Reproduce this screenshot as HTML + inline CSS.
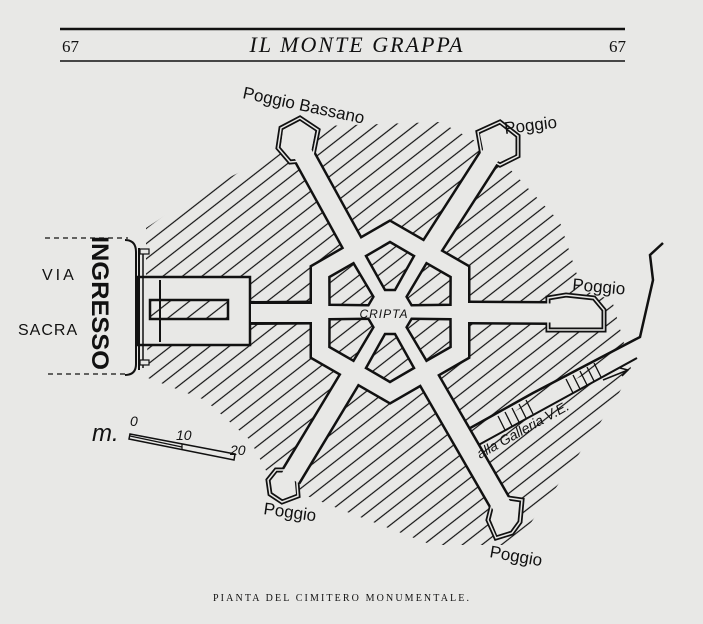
<!DOCTYPE html>
<html><head><meta charset="utf-8"><style>
html,body{margin:0;padding:0;background:#e8e8e6;}
svg{display:block;}
</style></head><body>
<svg width="703" height="624" viewBox="0 0 703 624" xmlns="http://www.w3.org/2000/svg">
<defs>
<pattern id="h" patternUnits="userSpaceOnUse" width="12" height="12" patternTransform="rotate(-38)">
<line x1="0" y1="6" x2="12" y2="6" stroke="#111" stroke-width="1.2"/>
</pattern>
</defs>
<rect width="703" height="624" fill="#e8e8e6"/>
<!-- header -->
<line x1="60" y1="29" x2="625" y2="29" stroke="#111" stroke-width="2.5"/>
<line x1="60" y1="61" x2="625" y2="61" stroke="#111" stroke-width="1.5"/>
<text x="62" y="52" font-family="Liberation Serif,serif" font-size="17" fill="#111">67</text>
<text x="357" y="52" text-anchor="middle" font-family="Liberation Serif,serif" font-style="italic" font-size="22" letter-spacing="2" fill="#111">IL MONTE GRAPPA</text>
<text x="626" y="52" text-anchor="end" font-family="Liberation Serif,serif" font-size="17" fill="#111">67</text>

<!-- hatched ground -->
<polygon points="146,228 200,192 268,158 322,126 440,122 492,150 560,222 582,290 612,300 632,372 602,420 560,482 515,545 432,545 342,510 272,482 250,440 205,400 148,378 146,300" fill="url(#h)"/>

<!-- road -->
<polyline points="463,432 533,393 640,337 653,280 650,255 663,243" fill="none" stroke="#111" stroke-width="2.5"/>
<polygon points="466,440 533,401 637,348 637,358 473,448" fill="#e8e8e6"/>
<line x1="473" y1="448" x2="637" y2="358" stroke="#111" stroke-width="2"/>
<g stroke="#111" stroke-width="1.3">
<line x1="498" y1="416" x2="505" y2="430"/><line x1="505" y1="412" x2="512" y2="426"/><line x1="512" y1="408" x2="519" y2="422"/><line x1="519" y1="404" x2="526" y2="418"/><line x1="526" y1="400" x2="533" y2="414"/>
<line x1="566" y1="379" x2="573" y2="393"/><line x1="573" y1="375" x2="580" y2="389"/><line x1="580" y1="371" x2="587" y2="385"/><line x1="587" y1="367" x2="594" y2="381"/><line x1="594" y1="363" x2="601" y2="377"/>
</g>

<!-- corridors black -->
<g stroke="#111" stroke-linecap="butt" fill="none" stroke-width="24">
<line x1="390" y1="312" x2="302" y2="152"/>
<line x1="390" y1="312" x2="494" y2="150"/>
<line x1="390" y1="312" x2="552" y2="313"/>
<line x1="390" y1="312" x2="503" y2="508"/>
<line x1="390" y1="312" x2="290" y2="478"/>
<line x1="390" y1="312" x2="245" y2="313"/>
</g>
<polygon points="390,222 468,267 468,357 390,402 312,357 312,267" fill="#111" stroke="#111" stroke-width="5"/>
<!-- caps -->
<g fill="#e8e8e6" stroke="#111" stroke-width="5">
<polygon points="281,128 300,118 318,130 312,160 290,162 278,148"/>
<polygon points="478,132 500,122 518,136 518,156 500,165 482,155"/>
<polygon points="548,298 566,295 594,298 604,310 604,330 548,330"/>
<polygon points="494,496 522,500 520,522 512,533 496,538 488,520"/>
<polygon points="296,470 276,470 268,480 270,494 282,502 298,496"/>
</g>
<g fill="none" stroke="#e8e8e6" stroke-width="1.5">
<polygon points="281,128 300,118 318,130 312,160 290,162 278,148"/>
<polygon points="478,132 500,122 518,136 518,156 500,165 482,155"/>
<polygon points="548,298 566,295 594,298 604,310 604,330 548,330"/>
<polygon points="494,496 522,500 520,522 512,533 496,538 488,520"/>
<polygon points="296,470 276,470 268,480 270,494 282,502 298,496"/>
</g>
<g fill="#e8e8e6">
<polygon points="283,130 300,121 315,131 310,158 291,159 281,147"/>
<polygon points="480,134 500,125 515,137 515,155 500,162 484,154"/>
<polygon points="551,301 566,298 592,301 601,311 601,327 551,327"/>
<polygon points="497,499 519,503 517,521 510,530 497,535 491,520"/>
<polygon points="294,473 278,473 271,481 273,492 283,499 296,494"/>
</g>
<!-- corridors paper -->
<g stroke="#e8e8e6" stroke-linecap="butt" fill="none" stroke-width="19">
<line x1="390" y1="312" x2="302" y2="152"/>
<line x1="390" y1="312" x2="494" y2="150"/>
<line x1="390" y1="312" x2="554" y2="313"/>
<line x1="390" y1="312" x2="503" y2="508"/>
<line x1="390" y1="312" x2="290" y2="478"/>
<line x1="390" y1="312" x2="238" y2="313"/>
</g>
<polygon points="390,222 468,267 468,357 390,402 312,357 312,267" fill="#e8e8e6"/>
<!-- islands -->
<g fill="url(#h)" stroke="#111" stroke-width="2.5" stroke-linejoin="miter">
<polygon points="385,290 395,290 414,256 390,242 366,256"/>
<polygon points="406.6,296.7 411.6,305.3 450.5,304.8 450.6,277 426.5,263.2"/>
<polygon points="411.6,318.7 406.6,327.3 426.5,360.8 450.6,347 450.5,319.2"/>
<polygon points="395,334 385,334 366,368 390,382 414,368"/>
<polygon points="373.4,327.3 368.4,318.7 329.5,319.2 329.4,347 353.5,360.8"/>
<polygon points="368.4,305.3 373.4,296.7 353.5,263.2 329.4,277 329.5,304.8"/>
</g>
<text x="384" y="318" text-anchor="middle" font-family="Liberation Sans,sans-serif" font-style="italic" font-size="12" letter-spacing="1" fill="#111">CRIPTA</text>

<!-- road label and arrow -->
<rect x="0" y="0" width="0" height="0"/>
<path d="M603,380 L628,370 M620,368 L628,370 L622,376" fill="none" stroke="#111" stroke-width="1.5"/>
<text transform="translate(480,459) rotate(-29)" font-family="Liberation Sans,sans-serif" font-style="italic" font-size="14" fill="#111">alla Galleria V.E.</text>

<!-- entrance building -->
<rect x="138" y="277" width="112" height="68" fill="#e8e8e6" stroke="#111" stroke-width="2.5"/>
<rect x="150" y="300" width="78" height="19" fill="url(#h)" stroke="#111" stroke-width="2.5"/>
<line x1="160" y1="280" x2="160" y2="342" stroke="#111" stroke-width="2"/>
<line x1="250" y1="303" x2="312" y2="303" stroke="#111" stroke-width="2.5"/>
<line x1="250" y1="323" x2="312" y2="323" stroke="#111" stroke-width="2.5"/>
<rect x="251" y="304" width="62" height="18" fill="#e8e8e6"/>
<path d="M125,240 Q136,240 136,252 L136,364 Q136,375 125,375" fill="none" stroke="#111" stroke-width="2"/>
<line x1="139" y1="248" x2="139" y2="370" stroke="#111" stroke-width="2"/>
<line x1="143" y1="250" x2="143" y2="368" stroke="#111" stroke-width="1.5"/>
<rect x="140" y="249" width="9" height="5" fill="#e8e8e6" stroke="#111" stroke-width="1.2"/>
<rect x="140" y="360" width="9" height="5" fill="#e8e8e6" stroke="#111" stroke-width="1.2"/>
<line x1="45" y1="238" x2="128" y2="238" stroke="#111" stroke-width="1.3" stroke-dasharray="5,4"/>
<line x1="48" y1="374" x2="130" y2="374" stroke="#111" stroke-width="1.3" stroke-dasharray="5,4"/>
<text x="42" y="280" font-family="Liberation Sans,sans-serif" font-size="16" letter-spacing="3" fill="#111">VIA</text>
<text x="18" y="335" font-family="Liberation Sans,sans-serif" font-size="16" letter-spacing="1" fill="#111">SACRA</text>
<text transform="translate(92,236) rotate(90)" font-family="Liberation Sans,sans-serif" font-weight="bold" font-size="24" textLength="134" lengthAdjust="spacingAndGlyphs" fill="#111">INGRESSO</text>

<!-- scale -->
<text x="92" y="441" font-family="Liberation Sans,sans-serif" font-style="italic" font-size="24" fill="#111">m.</text>
<polygon points="130,434 235,454 234,460 129,439" fill="#e8e8e6" stroke="#111" stroke-width="1.5"/>
<line x1="130" y1="436" x2="182" y2="447" stroke="#111" stroke-width="1.2"/>
<line x1="182" y1="444" x2="182" y2="450" stroke="#111" stroke-width="1.2"/>
<text x="130" y="426" font-family="Liberation Sans,sans-serif" font-style="italic" font-size="14" fill="#111">0</text>
<text x="176" y="440" font-family="Liberation Sans,sans-serif" font-style="italic" font-size="14" fill="#111">10</text>
<text x="230" y="455" font-family="Liberation Sans,sans-serif" font-style="italic" font-size="14" fill="#111">20</text>

<!-- labels -->
<g font-family="Liberation Sans Narrow,Liberation Sans,sans-serif" font-size="17" fill="#111">
<text transform="translate(242,98) rotate(12)">Poggio Bassano</text>
<text transform="translate(505,134) rotate(-7)">Poggio</text>
<text transform="translate(572,290) rotate(5)">Poggio</text>
<text transform="translate(263,514) rotate(8)">Poggio</text>
<text transform="translate(489,557) rotate(10)">Poggio</text>
</g>

<text x="341" y="601" text-anchor="middle" font-family="Liberation Serif,serif" font-size="10" textLength="256" lengthAdjust="spacing" fill="#111">PIANTA DEL CIMITERO MONUMENTALE.</text>
</svg>
</body></html>
